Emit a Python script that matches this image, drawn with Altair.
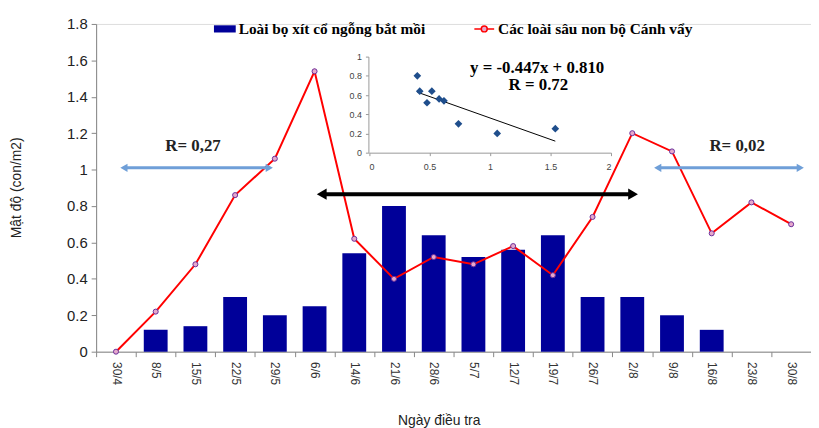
import altair as alt
import pandas as pd

# ---------------- data ----------------
dates = ["30/4", "8/5", "15/5", "22/5", "29/5", "6/6", "14/6", "21/6", "28/6",
         "5/7", "12/7", "19/7", "26/7", "2/8", "9/8", "16/8", "23/8", "30/8"]
predator = [0, 0.12, 0.14, 0.30, 0.20, 0.25, 0.54, 0.80, 0.64,
            0.52, 0.56, 0.64, 0.30, 0.30, 0.20, 0.12, 0, 0]
larvae = [0, 0.22, 0.48, 0.86, 1.06, 1.54, 0.62, 0.40, 0.52,
          0.48, 0.58, 0.42, 0.74, 1.20, 1.10, 0.65, 0.82, 0.70]

name_bar = "Loài bọ xít cổ ngỗng bắt mồi"
name_line = "Các loài sâu non bộ Cánh vẩy"

# inset scatter (larvae density vs predator density, 29/5 - 26/7)
inset_x = [1.06, 1.54, 0.62, 0.40, 0.52, 0.48, 0.58, 0.42, 0.74]
inset_y = [0.20, 0.25, 0.54, 0.80, 0.64, 0.52, 0.56, 0.64, 0.30]
trend_x = [0.40, 1.54]
trend_y = [0.63, 0.12]
eq_text = ["y = -0.447x + 0.810", "R = 0.72"]
eq_x = [1.39, 1.40]
eq_y = [0.885, 0.70]

# annotation arrows (x in category-index units)
blue_start = [0.20, 13.64]
blue_end = [3.86, 17.23]
blue_y = [1.01, 1.01]
r_text = ["R= 0,27", "R= 0,02"]
r_x = [1.94, 15.64]
r_y = [1.13, 1.13]
black_start = [5.18]
black_end = [13.02]
black_y = [0.865]

W, H = 722, 331
SANS = "Liberation Sans"
SERIF = "Liberation Serif"

bar_df = pd.DataFrame({"date": dates, "value": predator, "series": name_bar})
line_df = pd.DataFrame({"date": dates, "value": larvae, "series": name_line})

x_main = alt.X(
    "date:N", sort=dates,
    scale=alt.Scale(paddingInner=0, paddingOuter=0),
    axis=alt.Axis(labelAngle=90, labelFont=SANS, labelFontSize=12, labelColor="#333",
                  labelPadding=5, tickBand="extent", tickSize=5, tickColor="#868686",
                  domainColor="#868686", grid=False, title="Ngày điều tra",
                  titleFont=SANS, titleFontSize=14, titleFontWeight="normal",
                  titleColor="#222", titleX=346, titleY=70, titleAlign="center",
                  titleBaseline="middle"),
)
y_main = alt.Y(
    "value:Q", scale=alt.Scale(domain=[0, 1.8], nice=False),
    axis=alt.Axis(values=[0, 0.2, 0.4, 0.6, 0.8, 1, 1.2, 1.4, 1.6, 1.8], format="~g",
                  labelFont=SANS, labelFontSize=15, labelColor="#222", labelPadding=4,
                  tickSize=5, tickColor="#868686", domainColor="#868686", grid=False,
                  title="Mật độ (con/m2)", titleFont=SANS, titleFontSize=14,
                  titleFontWeight="normal", titleColor="#222", titleAngle=270,
                  titleX=-80, titleY=165, titleAlign="center", titleBaseline="middle"),
)

bars = alt.Chart(bar_df).mark_bar(width={"band": 0.6}, strokeWidth=0).encode(
    x=x_main, y=y_main,
    color=alt.Color("series:N", scale=alt.Scale(domain=[name_bar], range=["#000099"]),
                    legend=alt.Legend(orient="none", legendX=119, legendY=-6, title=None,
                                      symbolType="M-1,-0.33L1,-0.33L1,0.33L-1,0.33Z",
                                      symbolSize=484, symbolStrokeWidth=0,
                                      labelFont=SERIF, labelFontSize=15.5, labelFontWeight="bold",
                                      labelColor="black", labelOffset=3, padding=0,
                                      labelLimit=400)),
)

line = alt.Chart(line_df).mark_line(strokeWidth=2).encode(
    x=x_main, y=y_main,
    stroke=alt.Stroke("series:N", scale=alt.Scale(domain=[name_line], range=["#ff0000"]),
                      legend=alt.Legend(orient="none", legendX=381, legendY=-6, title=None,
                                        symbolType="M-1,0L-0.3,0M0.3,0L1,0M-0.3,0A0.3,0.3,0,1,0,0.3,0A0.3,0.3,0,1,0,-0.3,0",
                                        symbolSize=400, symbolStrokeWidth=1.5,
                                        symbolFillColor="#e6a8cc",
                                        labelFont=SERIF, labelFontSize=15.5, labelFontWeight="bold",
                                        labelColor="black", labelOffset=3, padding=0,
                                        labelLimit=400)),
)

points = alt.Chart(line_df).mark_point(shape="circle", size=26, filled=True, fill="#e6a8cc",
                                       stroke="#6a2f9a", strokeWidth=1, opacity=1).encode(
    x=x_main, y=y_main,
)

main = alt.layer(bars, line, points)

# ---------------- annotation arrows ----------------
blue_df = pd.DataFrame({"x1": blue_start, "x2": blue_end, "y": blue_y})
black_df = pd.DataFrame({"x1": black_start, "x2": black_end, "y": black_y})
rtext_df = pd.DataFrame({"x": r_x, "y": r_y, "t": r_text})

xa_scale = alt.Scale(domain=[-0.5, 17.5], nice=False, zero=False)
ya_scale = alt.Scale(domain=[0, 1.8], nice=False)

blue_rule = alt.Chart(blue_df).mark_rule(color="#6f9fd8", strokeWidth=3).encode(
    x=alt.X("x1:Q", scale=xa_scale, axis=None), x2="x2:Q",
    y=alt.Y("y:Q", scale=ya_scale, axis=None),
)
blue_left = alt.Chart(blue_df).mark_point(shape="triangle-left", filled=True, size=70,
                                          color="#6f9fd8", opacity=1).encode(
    x=alt.X("x1:Q", scale=xa_scale, axis=None), y=alt.Y("y:Q", scale=ya_scale, axis=None),
)
blue_right = alt.Chart(blue_df).mark_point(shape="triangle-right", filled=True, size=70,
                                           color="#6f9fd8", opacity=1).encode(
    x=alt.X("x2:Q", scale=xa_scale, axis=None), y=alt.Y("y:Q", scale=ya_scale, axis=None),
)
black_rule = alt.Chart(black_df).mark_rule(color="black", strokeWidth=4).encode(
    x=alt.X("x1:Q", scale=xa_scale, axis=None), x2="x2:Q",
    y=alt.Y("y:Q", scale=ya_scale, axis=None),
)
black_left = alt.Chart(black_df).mark_point(shape="triangle-left", filled=True, size=130,
                                            color="black", opacity=1).encode(
    x=alt.X("x1:Q", scale=xa_scale, axis=None), y=alt.Y("y:Q", scale=ya_scale, axis=None),
)
black_right = alt.Chart(black_df).mark_point(shape="triangle-right", filled=True, size=130,
                                             color="black", opacity=1).encode(
    x=alt.X("x2:Q", scale=xa_scale, axis=None), y=alt.Y("y:Q", scale=ya_scale, axis=None),
)
r_labels = alt.Chart(rtext_df).mark_text(font=SERIF, fontSize=17, fontWeight="bold",
                                         color="#222", baseline="middle").encode(
    x=alt.X("x:Q", scale=xa_scale, axis=None), y=alt.Y("y:Q", scale=ya_scale, axis=None),
    text="t:N",
)
arrows = alt.layer(blue_rule, blue_left, blue_right, black_rule, black_left, black_right, r_labels)

# ---------------- inset scatter ----------------
sc_df = pd.DataFrame({"ix": inset_x, "iy": inset_y})
tr_df = pd.DataFrame({"ix": trend_x, "iy": trend_y})
eq_df = pd.DataFrame({"ix": eq_x, "iy": eq_y, "t": eq_text})

xi_scale = alt.Scale(domain=[0, 2], range=[275.5, 520], nice=False, zero=False)
yi_scale = alt.Scale(domain=[0, 1], range=[130, 33], nice=False)
xi_axis = alt.Axis(orient="bottom", offset=-201, values=[0, 0.5, 1, 1.5, 2], format="~g",
                   labelFont=SANS, labelFontSize=9, labelColor="#444", labelPadding=7,
                   tickSize=3, tickColor="#999", domainColor="#999", grid=False, title=None)
yi_axis = alt.Axis(orient="left", offset=-275, values=[0, 0.2, 0.4, 0.6, 0.8, 1], format="~g",
                   labelFont=SANS, labelFontSize=9, labelColor="#444", labelPadding=4,
                   tickSize=3, tickColor="#999", domainColor="#999", grid=False, title=None)

sc = alt.Chart(sc_df).mark_point(shape="diamond", filled=True, size=60, color="#1f4e8c",
                                 opacity=1).encode(
    x=alt.X("ix:Q", scale=xi_scale, axis=xi_axis),
    y=alt.Y("iy:Q", scale=yi_scale, axis=yi_axis),
)
tr = alt.Chart(tr_df).mark_line(color="black", strokeWidth=1).encode(
    x=alt.X("ix:Q", scale=xi_scale, axis=xi_axis),
    y=alt.Y("iy:Q", scale=yi_scale, axis=yi_axis),
)
eq = alt.Chart(eq_df).mark_text(font=SERIF, fontSize=17, fontWeight="bold", color="black",
                                baseline="middle").encode(
    x=alt.X("ix:Q", scale=xi_scale, axis=xi_axis),
    y=alt.Y("iy:Q", scale=yi_scale, axis=yi_axis),
    text="t:N",
)
inset = alt.layer(tr, sc, eq)

chart = alt.layer(main, arrows, inset).resolve_scale(
    x="independent", y="independent"
).properties(
    width=W, height=H,
    autosize=alt.AutoSizeParams(type="none"),
    padding={"left": 89, "top": 14, "right": 0, "bottom": 78},
).configure_view(stroke=None).configure(background="white")

chart.save("out.html", embed_options={"renderer": "svg", "actions": False})
